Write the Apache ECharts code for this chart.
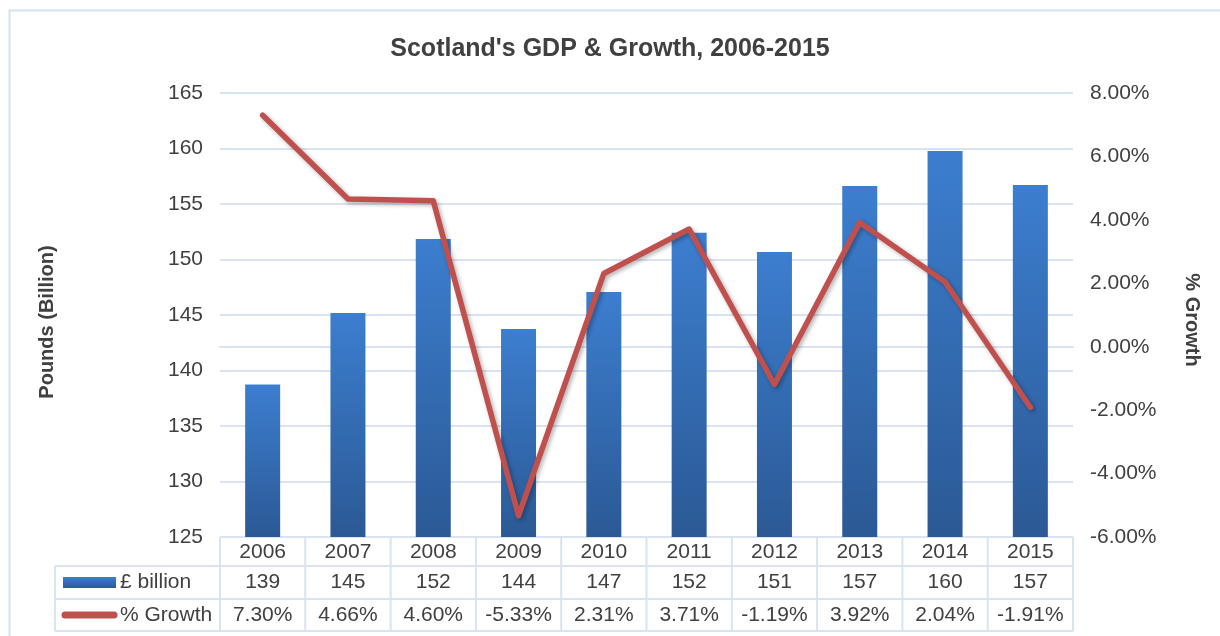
<!DOCTYPE html>
<html>
<head>
<meta charset="utf-8">
<title>Scotland's GDP &amp; Growth, 2006-2015</title>
<script src="https://cdn.jsdelivr.net/npm/echarts@6/dist/echarts.min.js"></script>
<style>
  html, body { margin: 0; padding: 0; background: #ffffff; }
  #chart { width: 1220px; height: 636px; }
</style>
</head>
<body>
<div id="chart"></div>
<script>
// Years shown on the category axis and in the data table header
const years = ['2006', '2007', '2008', '2009', '2010', '2011', '2012', '2013', '2014', '2015'];
// Scotland's GDP, £ billion
const gdpBillion = [138.75, 145.18, 151.85, 143.74, 147.07, 152.4, 150.68, 156.62, 159.77, 156.71];
// Annual growth, %
const growthPct = [7.30, 4.66, 4.60, -5.33, 2.31, 3.71, -1.19, 3.92, 2.04, -1.91];
// Row labels of the data table
const seriesNames = ['£ billion', '% Growth'];

const FONT = '"Liberation Sans", Arial, Helvetica, sans-serif';
const TEXT = '#404040';
const RULE = '#D9E3F1';
const BAR_TOP = '#3C7ECF';
const BAR_BOTTOM = '#2B5995';
const LINE_RED = '#C0504D';

const GRID = { left: 220, right: 147, top: 93, bottom: 99 };

const barGradient = () => new echarts.graphic.LinearGradient(0, 0, 0, 1, [
  { offset: 0, color: BAR_TOP },
  { offset: 1, color: BAR_BOTTOM }
]);

const chart = echarts.init(document.getElementById('chart'), null, { renderer: 'canvas' });

chart.setOption({
  backgroundColor: '#ffffff',
  animation: false,
  textStyle: { fontFamily: FONT },
  title: {
    text: "Scotland's GDP & Growth, 2006-2015",
    left: 'center',
    top: 32,
    textStyle: { fontFamily: FONT, fontSize: 25, fontWeight: 'bold', color: TEXT }
  },
  grid: GRID,
  xAxis: {
    type: 'category',
    data: years,
    axisTick: { show: false },
    axisLine: { lineStyle: { color: RULE, width: 2 } },
    axisLabel: { color: TEXT, fontSize: 21, margin: 5, fontFamily: FONT }
  },
  yAxis: [
    {
      type: 'value',
      min: 125,
      max: 165,
      interval: 5,
      axisLine: { show: false },
      axisTick: { show: false },
      splitLine: { lineStyle: { color: RULE, width: 2 } },
      axisLabel: { color: TEXT, fontSize: 21, margin: 17, fontFamily: FONT }
    },
    {
      type: 'value',
      position: 'right',
      min: -6,
      max: 8,
      interval: 2,
      axisLine: { show: false },
      axisTick: { show: false },
      splitLine: { show: false },
      axisLabel: {
        color: TEXT, fontSize: 21, margin: 17, fontFamily: FONT,
        formatter: v => v.toFixed(2) + '%'
      }
    }
  ],
  series: [
    {
      name: seriesNames[0],
      type: 'bar',
      yAxisIndex: 0,
      data: gdpBillion,
      barWidth: 35,
      itemStyle: {
        color: barGradient(),
        shadowColor: 'rgba(0,0,0,0.28)',
        shadowBlur: 4,
        shadowOffsetX: 2,
        shadowOffsetY: 1
      }
    },
    {
      name: seriesNames[1],
      type: 'line',
      yAxisIndex: 1,
      data: growthPct,
      symbol: 'none',
      lineStyle: {
        color: LINE_RED,
        width: 5.5,
        cap: 'round',
        join: 'round',
        shadowColor: 'rgba(0,0,0,0.3)',
        shadowBlur: 4,
        shadowOffsetX: 2,
        shadowOffsetY: 2
      },
      z: 3
    }
  ]
});

// Data table under the plot, outer frame and rotated axis titles
function buildGraphics() {
  const els = [];
  const W = 1220, H = 636;
  const left = GRID.left, right = W - GRID.right;
  const axisY = H - GRID.bottom;
  const row1 = axisY + 29, row2 = row1 + 33, row3 = row2 + 32;
  const legendLeft = 55;
  const band = (right - left) / years.length;
  const lineStyle = { stroke: RULE, lineWidth: 2 };

  // outer chart frame (top and left edges)
  els.push({ type: 'polyline', silent: true, shape: { points: [[9.5, H + 5], [9.5, 10.5], [W + 5, 10.5]] },
             style: { stroke: '#D5E1F2', lineWidth: 2, fill: null } });

  // table horizontal rules
  [row1, row2, row3].forEach(y => {
    els.push({ type: 'line', silent: true, shape: { x1: legendLeft, y1: y, x2: right, y2: y }, style: lineStyle });
  });
  // table vertical rules
  for (let i = 0; i <= years.length; i++) {
    const x = left + i * band;
    els.push({ type: 'line', silent: true, shape: { x1: x, y1: axisY, x2: x, y2: row3 }, style: lineStyle });
  }
  els.push({ type: 'line', silent: true, shape: { x1: legendLeft, y1: row1, x2: legendLeft, y2: row3 }, style: lineStyle });

  // legend keys inside the table
  els.push({ type: 'rect', silent: true, shape: { x: 63, y: 577, width: 53, height: 11 },
             style: { fill: barGradient() } });
  els.push({ type: 'line', silent: true, shape: { x1: 65, y1: (row2 + row3) / 2, x2: 114, y2: (row2 + row3) / 2 },
             style: { stroke: LINE_RED, lineWidth: 7, lineCap: 'round' } });
  seriesNames.forEach((name, r) => {
    els.push({ type: 'text', silent: true, x: 120, y: r === 0 ? (row1 + row2) / 2 : (row2 + row3) / 2,
               style: { text: name, fill: TEXT, font: '21px ' + FONT, align: 'left', verticalAlign: 'middle' } });
  });

  // table values, centred on each category
  years.forEach((yr, i) => {
    const cx = chart.convertToPixel({ xAxisIndex: 0 }, yr);
    els.push({ type: 'text', silent: true, x: cx, y: (row1 + row2) / 2,
               style: { text: String(Math.round(gdpBillion[i])), fill: TEXT, font: '21px ' + FONT,
                        align: 'center', verticalAlign: 'middle' } });
    els.push({ type: 'text', silent: true, x: cx, y: (row2 + row3) / 2,
               style: { text: growthPct[i].toFixed(2) + '%', fill: TEXT, font: '21px ' + FONT,
                        align: 'center', verticalAlign: 'middle' } });
  });

  // axis titles
  els.push({ type: 'text', silent: true, x: 47, y: 322, rotation: Math.PI / 2,
             style: { text: 'Pounds (Billion)', fill: TEXT, font: 'bold 20px ' + FONT,
                      align: 'center', verticalAlign: 'middle' } });
  els.push({ type: 'text', silent: true, x: 1192, y: 320, rotation: -Math.PI / 2,
             style: { text: '% Growth', fill: TEXT, font: 'bold 20px ' + FONT,
                      align: 'center', verticalAlign: 'middle' } });
  return els;
}

chart.setOption({ graphic: buildGraphics() });
</script>
</body>
</html>
